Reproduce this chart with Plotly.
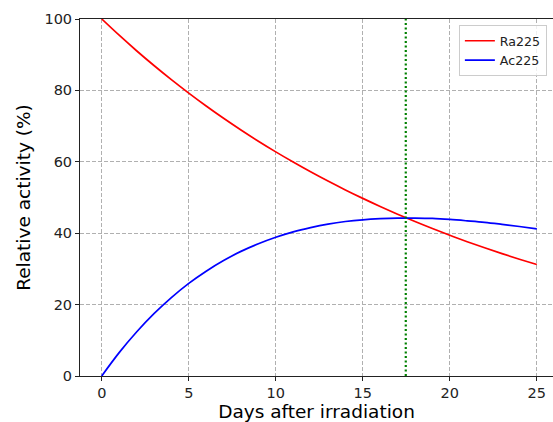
import plotly.graph_objects as go

days = list(range(0, 26))
ra225 = [100.0, 95.45, 91.11, 86.97, 83.01, 79.24, 75.63, 72.19, 68.91, 65.77,
         62.78, 59.93, 57.20, 54.60, 52.12, 49.75, 47.48, 45.32, 43.26, 41.30,
         39.42, 37.62, 35.91, 34.28, 32.72, 31.23]
ac225 = [0.0, 6.54, 12.32, 17.46, 21.96, 25.94, 29.35, 32.33, 34.91, 37.04,
         38.86, 40.38, 41.57, 42.54, 43.27, 43.76, 44.06, 44.22, 44.22, 44.13,
         43.85, 43.46, 43.03, 42.48, 41.88, 41.21]
peak_day = 17.47
x_ticks = [0, 5, 10, 15, 20, 25]
y_ticks = [0, 20, 40, 60, 80, 100]

FONT = "DejaVu Sans"
GRID = "#b0b0b0"

fig = go.Figure()
fig.add_trace(go.Scatter(x=days, y=ra225, mode="lines", name="Ra225",
                         line=dict(color="red", width=1.7, shape="spline")))
fig.add_trace(go.Scatter(x=days, y=ac225, mode="lines", name="Ac225",
                         line=dict(color="blue", width=1.7, shape="spline")))
fig.add_shape(type="line", xref="x", yref="paper", x0=peak_day, x1=peak_day,
              y0=0, y1=1, line=dict(color="green", width=2.2, dash="2px,2.5px"))

fig.update_layout(
    width=553, height=422,
    margin=dict(l=80, r=0, t=19, b=46),
    paper_bgcolor="white", plot_bgcolor="white",
    font=dict(family=FONT, size=14.5, color="black"),
    showlegend=True,
    hovermode=False,
    legend=dict(x=0.801, y=0.983, xanchor="left", yanchor="top",
                bgcolor="rgba(255,255,255,0.8)", bordercolor="#cccccc",
                borderwidth=1, font=dict(size=12.6, family=FONT, color="#222"),
                itemwidth=30, tracegroupgap=0),
)
fig.update_xaxes(
    range=[-1.25, 25.93], tickvals=x_ticks, ticks="outside", ticklen=4,
    tickcolor="#222", showline=True, linecolor="#222", linewidth=1,
    mirror=True, showgrid=True, gridcolor=GRID, griddash="4px,2px",
    gridwidth=0.8, zeroline=False,
    title=dict(text="Days after irradiation", font=dict(size=18.5), standoff=4),
    tickfont=dict(size=14.5, color="#222"),
)
fig.update_yaxes(
    range=[0, 100], tickvals=y_ticks, ticks="outside", ticklen=4,
    tickcolor="#222", showline=True, linecolor="#222", linewidth=1,
    mirror=False, showgrid=True, gridcolor=GRID, griddash="4px,2px",
    gridwidth=0.8, zeroline=False,
    title=dict(text="Relative activity (%)", font=dict(size=18.5), standoff=8),
    tickfont=dict(size=14.5, color="#222"),
)

fig.write_html("out.html", config={"displayModeBar": False},
               post_script="document.body.style.margin='0';document.body.style.overflow='hidden';")
